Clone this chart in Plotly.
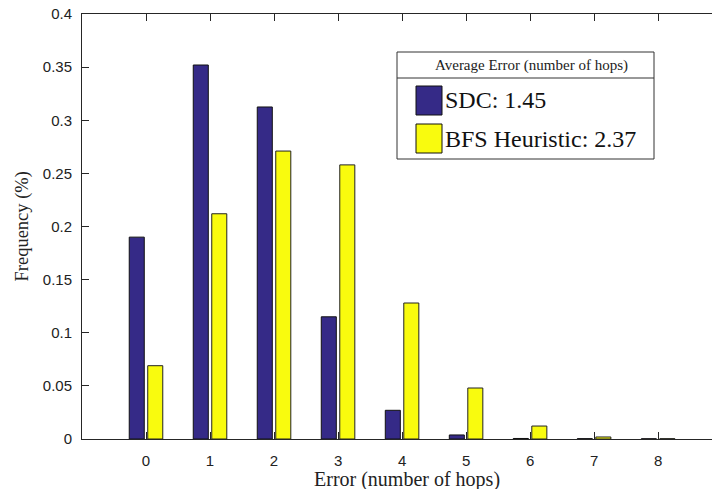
import plotly.graph_objects as go

# ---- data ----
hops = [0, 1, 2, 3, 4, 5, 6, 7, 8]
sdc = [0.190, 0.352, 0.3125, 0.115, 0.027, 0.0038, 0.0005, 0.0003, 0.0002]
bfs = [0.069, 0.212, 0.271, 0.258, 0.128, 0.048, 0.0122, 0.0019, 0.0003]
series_names = ["SDC: 1.45", "BFS Heuristic: 2.37"]
legend_title = "Average Error (number of hops)"
y_tick_vals = [0, 0.05, 0.1, 0.15, 0.2, 0.25, 0.3, 0.35, 0.4]
y_tick_text = ["0", "0.05", "0.1", "0.15", "0.2", "0.25", "0.3", "0.35", "0.4"]
x_title = "Error (number of hops)"
y_title = "Frequency (%)"

# ---- style ----
W, H = 712, 489
PL, PR, PT, PB = 82, 712, 14, 439  # plot area in screen pixels
ML, MR, MT, MB = PL, W - PR, PT, H - PB
PW, PH = PR - PL, PB - PT
C_BLUE = "#352A87"
C_YELLOW = "#F9FB0E"
AX = "#262626"
SERIF = "Liberation Serif, Times New Roman, serif"
SANS = "Liberation Sans, Arial, sans-serif"


def px(x):
    return (x - PL) / PW


def py(y):
    return (PB - y) / PH


fig = go.Figure()
fig.add_trace(go.Bar(x=hops, y=sdc, name=series_names[0], width=0.235, offset=-0.262,
                     marker=dict(color=C_BLUE, line=dict(color="#111111", width=1))))
fig.add_trace(go.Bar(x=hops, y=bfs, name=series_names[1], width=0.235, offset=0.027,
                     marker=dict(color=C_YELLOW, line=dict(color="#222222", width=1))))

# custom legend box (MATLAB style)
shapes = [
    dict(type="rect", xref="paper", yref="paper", x0=px(397), x1=px(654), y0=py(159), y1=py(52),
         line=dict(color="#333333", width=1), fillcolor="white", layer="above"),
    dict(type="line", xref="paper", yref="paper", x0=px(397), x1=px(654), y0=py(78), y1=py(78),
         line=dict(color="#333333", width=1), layer="above"),
    dict(type="rect", xref="paper", yref="paper", x0=px(416), x1=px(442), y0=py(115), y1=py(86),
         line=dict(color="#111111", width=1), fillcolor=C_BLUE, layer="above"),
    dict(type="rect", xref="paper", yref="paper", x0=px(416), x1=px(442), y0=py(153), y1=py(124),
         line=dict(color="#111111", width=1), fillcolor=C_YELLOW, layer="above"),
]
annotations = [
    dict(text=legend_title, xref="paper", yref="paper", x=px(531), y=py(65), showarrow=False,
         xanchor="center", yanchor="middle", font=dict(family=SERIF, size=15, color="#222222")),
    dict(text=series_names[0], xref="paper", yref="paper", x=px(443), y=py(100), showarrow=False,
         xanchor="left", yanchor="middle", font=dict(family=SERIF, size=24, color="#111111")),
    dict(text=series_names[1], xref="paper", yref="paper", x=px(443), y=py(139), showarrow=False,
         xanchor="left", yanchor="middle", font=dict(family=SERIF, size=24, color="#111111")),
    dict(text=x_title, xref="paper", yref="paper", x=px(407), y=py(479), showarrow=False,
         xanchor="center", yanchor="middle", font=dict(family=SERIF, size=20, color="#222222")),
    dict(text=y_title, xref="paper", yref="paper", x=px(22), y=0.5, showarrow=False, textangle=-90,
         xanchor="center", yanchor="middle", font=dict(family=SERIF, size=18.5, color="#222222")),
]

fig.update_layout(
    width=W, height=H,
    margin=dict(l=ML, r=MR, t=MT, b=MB, pad=0, autoexpand=False),
    paper_bgcolor="white", plot_bgcolor="white",
    showlegend=False,
    shapes=shapes, annotations=annotations,
    xaxis=dict(range=[-1.0, (PR - 147) / 63.9], tickvals=hops, ticks="inside", ticklen=7,
               tickcolor=AX, showline=True, linecolor=AX, linewidth=1, mirror="ticks",
               showgrid=False, zeroline=False, ticklabelstandoff=8, automargin=False,
               ticklabeloverflow="allow",
               tickfont=dict(family=SANS, size=15, color="#222222")),
    yaxis=dict(range=[0, 0.4], tickvals=y_tick_vals, ticktext=y_tick_text, ticks="inside",
               ticklen=7, tickcolor=AX, showline=True, linecolor=AX, linewidth=1,
               showgrid=False, zeroline=False, ticklabelstandoff=6, automargin=False,
               ticklabeloverflow="allow",
               tickfont=dict(family=SANS, size=15, color="#222222")),
)

fig.write_html("out.html", config={"displayModeBar": False},
               post_script="document.body.style.margin='0';document.body.style.overflow='hidden';")
